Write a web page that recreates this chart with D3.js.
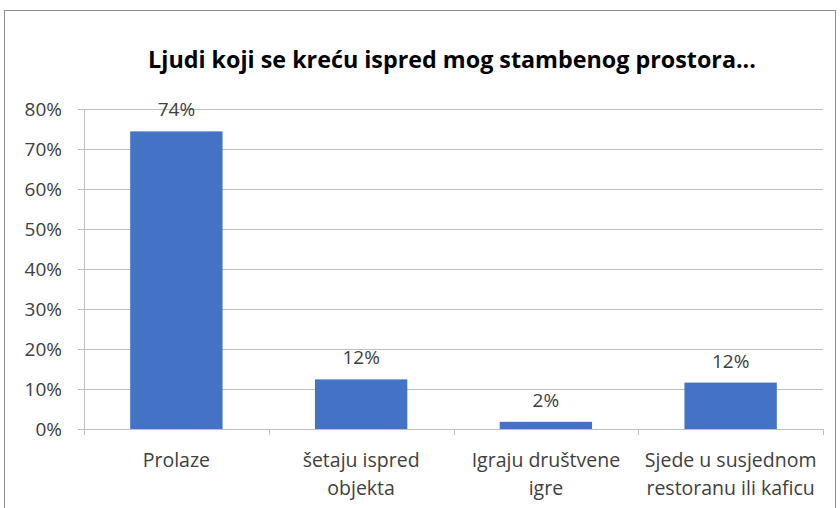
<!DOCTYPE html>
<html>
<head>
<meta charset="utf-8">
<script src="https://cdn.jsdelivr.net/npm/d3@7"></script>
<style>
  body { margin: 0; background: #fff; }
  text { font-family: "Open Sans", "Liberation Sans", sans-serif; fill: #404040; }
</style>
</head>
<body>
<svg width="840" height="508"></svg>
<script>
var title = "Ljudi koji se kreću ispred mog stambenog prostora...";
var categories = [["Prolaze"], ["šetaju ispred", "objekta"], ["Igraju društvene", "igre"], ["Sjede u susjednom", "restoranu ili kaficu"]];
var values = [0.744, 0.124, 0.018, 0.116];
var yTicks = [0, 0.1, 0.2, 0.3, 0.4, 0.5, 0.6, 0.7, 0.8];

var svg = d3.select("svg"),
    margin = {left: 84, right: 17, top: 109, bottom: 79},
    width = svg.attr("width") - margin.left - margin.right,
    height = svg.attr("height") - margin.top - margin.bottom;

// chart border
svg.append("rect")
    .attr("x", 4.5).attr("y", 10.5)
    .attr("width", 831).attr("height", 510)
    .attr("fill", "none")
    .attr("stroke", "#8c8c8c");

svg.append("text")
    .attr("x", 452)
    .attr("y", 68)
    .attr("text-anchor", "middle")
    .style("font-weight", "bold")
    .style("font-size", "23.3px")
    .style("fill", "#000")
    .text(title);

var g = svg.append("g")
    .attr("transform", `translate(${margin.left},${margin.top})`);

var xScale = d3.scaleBand()
    .domain(d3.range(categories.length))
    .range([0, width])
    .paddingInner(0.5)
    .paddingOuter(0.25);

var yScale = d3.scaleLinear()
    .domain([0, 0.8])
    .range([height, 0]);

// gridlines
g.selectAll(".grid")
    .data(yTicks.slice(1))
    .enter().append("line")
    .attr("class", "grid")
    .attr("x1", 0).attr("x2", width)
    .attr("y1", d => Math.round(yScale(d)) + 0.5)
    .attr("y2", d => Math.round(yScale(d)) + 0.5)
    .attr("stroke", "#bfbfbf");

// y axis
var yAxis = g.append("g")
    .call(d3.axisLeft(yScale).tickValues(yTicks).tickFormat(d3.format(".0%")).tickSize(6).tickPadding(16));
yAxis.selectAll("path, line").attr("stroke", "#bfbfbf");
yAxis.selectAll("text").style("font-size", "19px").style("fill", "#404040");

// x axis with ticks at band edges
var xAxis = g.append("g").attr("transform", `translate(0,${height})`);
xAxis.append("line")
    .attr("x1", 0).attr("x2", width)
    .attr("y1", 0.5).attr("y2", 0.5)
    .attr("stroke", "#bfbfbf");
var step = xScale.step();
xAxis.selectAll(".tick")
    .data(d3.range(categories.length + 1))
    .enter().append("line")
    .attr("x1", d => Math.round(xScale(0) - step * 0.25 + d * step) + 0.5)
    .attr("x2", d => Math.round(xScale(0) - step * 0.25 + d * step) + 0.5)
    .attr("y1", 0).attr("y2", 6)
    .attr("stroke", "#bfbfbf");

var labels = xAxis.selectAll(".cat")
    .data(categories)
    .enter().append("text")
    .attr("class", "cat")
    .attr("text-anchor", "middle")
    .style("font-size", "19.5px");
labels.each(function(d, i) {
    var t = d3.select(this);
    d.forEach(function(line, j) {
        t.append("tspan")
            .attr("x", xScale(i) + xScale.bandwidth() / 2)
            .attr("y", 38 + j * 27.5)
            .text(line);
    });
});

// bars
g.selectAll(".bar")
    .data(values)
    .enter().append("rect")
    .attr("class", "bar")
    .attr("x", (d, i) => xScale(i))
    .attr("y", d => yScale(d))
    .attr("width", xScale.bandwidth())
    .attr("height", d => height - yScale(d))
    .attr("fill", "#4472c4");

// data labels
g.selectAll(".val")
    .data(values)
    .enter().append("text")
    .attr("class", "val")
    .attr("text-anchor", "middle")
    .attr("x", (d, i) => xScale(i) + xScale.bandwidth() / 2)
    .attr("y", d => yScale(d) - 15)
    .style("font-size", "19px")
    .text(d => d3.format(".0%")(d));
</script>
</body>
</html>
